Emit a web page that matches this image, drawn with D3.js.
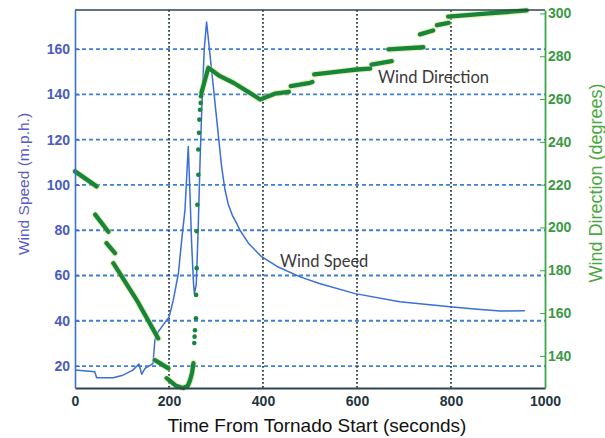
<!DOCTYPE html>
<html>
<head>
<meta charset="utf-8">
<script src="https://cdn.jsdelivr.net/npm/d3@7/dist/d3.min.js"></script>
<style>
  html, body { margin: 0; padding: 0; background: #fff; }
  svg { display: block; }
</style>
</head>
<body>
<svg id="chart" width="605" height="438"></svg>
<script>
// Wind speed record (seconds from tornado start, m.p.h.)
const speedTime = [0, 42, 46, 81, 100, 123, 136, 142, 149, 166, 170, 177, 195, 200, 209, 220, 227, 234, 238, 241, 244, 248, 252, 254, 258, 262, 266, 270, 275, 280, 283, 296, 312, 319, 326, 335, 344, 351, 370, 397, 430, 479, 520, 596, 691, 798, 850, 904, 957];
const speedValue = [18.2, 17.5, 14.8, 14.8, 15.8, 18.2, 20.9, 16.4, 19.0, 21.1, 31.5, 35.1, 40.3, 41.5, 49, 61, 75.6, 89, 105, 117, 100, 75, 57, 52, 56, 80, 110, 135, 160, 172, 166, 140, 108, 98, 91.5, 86.5, 83, 80, 74, 68.3, 64, 59.4, 56.5, 52, 48.4, 46.2, 45.2, 44.3, 44.4];

// Wind direction runs (degrees); null separates the recorded runs
const dirTime = [0, 46, null, 43, 71, null, 67, 85, null, 81.5, 131, 177, null, 170, 198.6, null, 195, 215, 230, 240, 245, 249, 252, null,
  269, 283.7, 308.5, 337, 372, 394, 425, 455, null, 459, 500, 505, null, 509, 560, 599, 628, null, 631, 674, null,
  667, 741, null, 734, 762, null, 770, 795, null, 794, 880, 961];
const dirValue = [226.2, 219.2, null, 206, 198, null, 192.7, 188, null, 183.3, 166.2, 148.2, null, 138, 134.2, null, 129.6, 126, 125, 126, 128.8, 132, 136.6, null,
  262.9, 274.6, 270.7, 267.6, 262.9, 259.8, 262.5, 263.4, null, 266, 267.6, 268, null, 271.5, 272.8, 273.8, 274.2, null, 276.1, 277.7, null,
  283.2, 284.2, null, 290.2, 292.0, null, 294.5, 295.6, null, 298.5, 300.0, 301.4];

// Sparse direction samples while the wind swings round
const dirDotTime = [253.8, 254.5, 255.3, 257.4, 257.6, 258.9, 258.9, 260.3, 262.4, 262.4, 263.8, 264.5, 266, 267.4, 268];
const dirDotValue = [146, 149, 152, 157.6, 168.5, 181, 198.2, 210.6, 224.6, 236.4, 244.2, 250.4, 255, 258.2, 261.3];

const timeTicks = [0, 200, 400, 600, 800, 1000];
const speedTicks = [20, 40, 60, 80, 100, 120, 140, 160];
const dirTicks = [140, 160, 180, 200, 220, 240, 260, 280, 300];

const svg = d3.select("#chart");
const L = 75, R = 545, T = 10, B = 388;

const x = d3.scaleLinear().domain([0, 1000]).range([L, R]);
const yL = d3.scaleLinear().domain([10.3, 177.3]).range([B, T]);
const yR = d3.scaleLinear().domain([125, 301.6]).range([B, T]);

const tickFont = "'Liberation Sans', Arial, sans-serif";
const noteFont = "Lato, 'Open Sans', sans-serif";

// horizontal grid (speed ticks)
svg.append("g").selectAll("line").data(speedTicks).join("line")
  .attr("x1", L).attr("x2", R)
  .attr("y1", d => yL(d)).attr("y2", d => yL(d))
  .attr("stroke", "#3f7fd6").attr("stroke-width", 1.8)
  .attr("stroke-dasharray", "4,3");

// vertical grid (time ticks)
svg.append("g").selectAll("line").data(timeTicks.filter(d => d > 0 && d < 1000)).join("line")
  .attr("x1", d => x(d)).attr("x2", d => x(d))
  .attr("y1", T).attr("y2", B)
  .attr("stroke", "#2b3f48").attr("stroke-width", 1.8)
  .attr("stroke-dasharray", "1.8,2.2");

// wind speed trace
const speedData = speedTime.map((t, i) => [t, speedValue[i]]);
svg.append("path").datum(speedData)
  .attr("fill", "none")
  .attr("stroke", "#3a6ed8").attr("stroke-width", 1.5)
  .attr("stroke-linejoin", "round")
  .attr("d", d3.line().x(d => x(d[0])).y(d => yL(d[1])));

// wind direction trace
const dirData = dirTime.map((t, i) => [t, dirValue[i]]);
const dirLine = d3.line().defined(d => d[0] !== null && d[1] !== null)
  .x(d => x(d[0])).y(d => yR(d[1]));
svg.append("path").datum(dirData)
  .attr("fill", "none")
  .attr("stroke", "#d6df7a").attr("stroke-opacity", 0.5).attr("stroke-width", 6.5)
  .attr("stroke-linecap", "round").attr("stroke-linejoin", "round")
  .attr("d", dirLine);
svg.append("path").datum(dirData)
  .attr("fill", "none")
  .attr("stroke", "#17853a").attr("stroke-width", 4.3)
  .attr("stroke-linecap", "round").attr("stroke-linejoin", "round")
  .attr("d", dirLine);
svg.append("g").selectAll("circle").data(dirDotTime.map((t, i) => [t, dirDotValue[i]])).join("circle")
  .attr("cx", d => x(d[0])).attr("cy", d => yR(d[1])).attr("r", 2.3)
  .attr("fill", "#17853a");

// frame: top edge
svg.append("line").attr("x1", L).attr("x2", R).attr("y1", T).attr("y2", T)
  .attr("stroke", "#2e4450").attr("stroke-width", 1.5);

// bottom axis
const xAxis = svg.append("g").attr("transform", `translate(0,${B})`)
  .call(d3.axisBottom(x).tickValues(timeTicks).tickSize(0).tickPadding(8).tickFormat(d3.format("d")));
xAxis.select(".domain").attr("stroke", "#2e4450").attr("stroke-width", 2);
xAxis.selectAll("text").attr("fill", "#24343c").attr("font-size", 14).attr("font-weight", "bold")
  .attr("font-family", tickFont);

// left axis
const leftAxis = svg.append("g").attr("transform", `translate(${L},0)`)
  .call(d3.axisLeft(yL).tickValues(speedTicks).tickSizeInner(-5).tickSizeOuter(0).tickPadding(5));
leftAxis.select(".domain").attr("stroke", "#3a6ed8").attr("stroke-width", 1.6);
leftAxis.selectAll(".tick line").attr("stroke", "#3a6ed8");
leftAxis.selectAll("text").attr("fill", "#4a5cc0").attr("font-size", 14).attr("font-weight", "bold")
  .attr("font-family", tickFont);

// right axis
const rightAxis = svg.append("g").attr("transform", `translate(${R},0)`)
  .call(d3.axisRight(yR).tickValues(dirTicks).tickSizeInner(-5).tickSizeOuter(0).tickPadding(3));
rightAxis.select(".domain").attr("stroke", "#3aa64a").attr("stroke-width", 1.8);
rightAxis.selectAll(".tick line").attr("stroke", "#3aa64a");
rightAxis.selectAll("text").attr("fill", "#3a9a44").attr("font-size", 14).attr("font-weight", "bold")
  .attr("font-family", tickFont);

// axis titles
svg.append("text")
  .attr("x", 317).attr("y", 432)
  .attr("text-anchor", "middle")
  .attr("font-family", tickFont).attr("font-size", 19).attr("fill", "#111")
  .text("Time From Tornado Start (seconds)");

svg.append("text")
  .attr("transform", "translate(29,184) rotate(-90)")
  .attr("text-anchor", "middle")
  .attr("font-family", tickFont).attr("font-size", 15.5).attr("fill", "#5a5ac6")
  .text("Wind Speed (m.p.h.)");

svg.append("text")
  .attr("transform", "translate(602,183) rotate(-90)")
  .attr("text-anchor", "middle")
  .attr("font-family", tickFont).attr("font-size", 18).attr("fill", "#4aa83e")
  .text("Wind Direction (degrees)");

// series labels
svg.append("text").attr("x", 378).attr("y", 83)
  .attr("font-family", noteFont).attr("font-size", 16.5).attr("fill", "#3a3a3a")
  .text("Wind Direction");
svg.append("text").attr("x", 280).attr("y", 267)
  .attr("font-family", noteFont).attr("font-size", 16.5).attr("fill", "#3a3a3a")
  .text("Wind Speed");
</script>
</body>
</html>
